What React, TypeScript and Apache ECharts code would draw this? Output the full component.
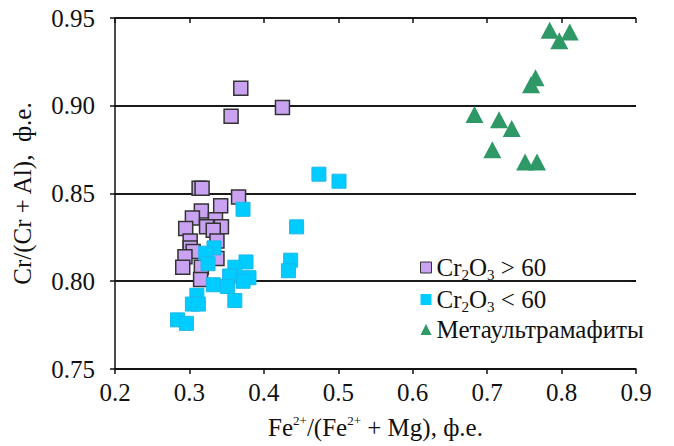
import React, { useEffect, useRef } from "react";
import * as echarts from "echarts";

const xTicks = [0.2, 0.3, 0.4, 0.5, 0.6, 0.7, 0.8, 0.9];
const yTicks = [0.75, 0.8, 0.85, 0.9, 0.95];

const seriesNames = ["Cr2O3 > 60", "Cr2O3 < 60", "Метаультрамафиты"];

const highCr: [number, number][] = [
  [0.369, 0.910], [0.425, 0.899], [0.356, 0.894], [0.313, 0.853], [0.317, 0.853],
  [0.366, 0.848], [0.342, 0.843], [0.316, 0.840], [0.304, 0.836], [0.335, 0.835],
  [0.343, 0.831], [0.323, 0.831], [0.295, 0.830], [0.332, 0.829], [0.301, 0.823],
  [0.337, 0.823], [0.301, 0.819], [0.305, 0.817], [0.294, 0.814], [0.337, 0.813],
  [0.291, 0.808], [0.316, 0.808], [0.315, 0.801],
];

const lowCr: [number, number][] = [
  [0.372, 0.841], [0.444, 0.831], [0.474, 0.861], [0.501, 0.857], [0.333, 0.819],
  [0.322, 0.816], [0.325, 0.810], [0.376, 0.811], [0.361, 0.808], [0.436, 0.812],
  [0.433, 0.806], [0.380, 0.802], [0.372, 0.800], [0.354, 0.803], [0.332, 0.798],
  [0.351, 0.797], [0.361, 0.789], [0.310, 0.792], [0.304, 0.787], [0.312, 0.787],
  [0.284, 0.778], [0.296, 0.776],
];

const metaUltramafic: [number, number][] = [
  [0.784, 0.943], [0.811, 0.942], [0.797, 0.937], [0.765, 0.916], [0.759, 0.912],
  [0.683, 0.895], [0.716, 0.892], [0.733, 0.887], [0.707, 0.875], [0.751, 0.868],
  [0.767, 0.868],
];

const FONT = "Liberation Serif";
const INK = "#111111";

export default function App() {
  const ref = useRef<HTMLDivElement>(null);
  useEffect(() => {
    if (!ref.current) return;
    const chart = echarts.init(ref.current, null, { renderer: "svg" });
    const xMin = xTicks[0], xMax = xTicks[xTicks.length - 1];
    const yMin = yTicks[0], yMax = yTicks[yTicks.length - 1];
    const option: any = {
      animation: false,
      grid: { left: 115, right: 38, top: 18, bottom: 76 },
      legend: {
        orient: "vertical",
        left: 415,
        top: 248,
        itemGap: 3,
        itemWidth: 11,
        itemHeight: 11,
        data: [
          { name: seriesNames[0], icon: "rect", itemStyle: { color: "#C9A3F2", borderColor: "#333", borderWidth: 1 } },
          { name: seriesNames[1], icon: "rect", itemStyle: { color: "#00CCFF", borderWidth: 0 } },
          { name: seriesNames[2], icon: "triangle", itemStyle: { color: "#2E9966", borderWidth: 0 } },
        ],
        formatter: (name: string) => {
          if (name === seriesNames[0]) return "{t|Cr}{s|2}{t|O}{s|3}{t| > 60}";
          if (name === seriesNames[1]) return "{t|Cr}{s|2}{t|O}{s|3}{t| < 60}";
          return "{t|" + name + "}";
        },
        textStyle: {
          fontFamily: FONT,
          fontSize: 25,
          color: INK,
          rich: {
            t: { fontFamily: FONT, fontSize: 25, color: INK, lineHeight: 25 },
            s: { fontFamily: FONT, fontSize: 15, color: INK, lineHeight: 25, padding: [14, 0, 0, 0] },
          },
        },
      },
      xAxis: [
        {
          type: "value",
          min: xMin,
          max: xMax,
          interval: 0.1,
          splitLine: { show: false },
          axisLine: { show: true, onZero: false, lineStyle: { color: INK, width: 1.5 } },
          axisTick: { show: true, inside: false, length: 5, lineStyle: { color: INK, width: 1.5 } },
          axisLabel: {
            fontFamily: FONT,
            fontSize: 25,
            color: INK,
            margin: 11,
            formatter: (v: number) => v.toFixed(1),
          },
          name: "{t|Fe}{u|2+}{t|/(Fe}{u|2+}{t| + Mg), ф.е.}",
          nameLocation: "middle",
          nameGap: 46,
          nameTextStyle: {
            fontFamily: FONT,
            fontSize: 25,
            color: INK,
            rich: {
              t: { fontFamily: FONT, fontSize: 25, color: INK, lineHeight: 25 },
              u: { fontFamily: FONT, fontSize: 13, color: INK, lineHeight: 25, padding: [0, 0, 14, 0] },
            },
          },
        },
        {
          type: "value",
          min: xMin,
          max: xMax,
          interval: 0.1,
          splitLine: { show: false },
          axisLine: { show: false, onZero: false },
          axisTick: { show: true, inside: true, length: 5, lineStyle: { color: INK, width: 1.5 } },
          axisLabel: { show: false },
        },
      ],
      yAxis: [
        {
          type: "value",
          min: yMin,
          max: yMax,
          interval: 0.05,
          axisLine: { show: true, onZero: false, lineStyle: { color: INK, width: 1.5 } },
          axisTick: { show: true, inside: false, length: 5, lineStyle: { color: INK, width: 1.5 } },
          splitLine: { show: true, lineStyle: { color: "#1a1a1a", width: 2 } },
          axisLabel: {
            fontFamily: FONT,
            fontSize: 25,
            color: INK,
            margin: 20,
            formatter: (v: number) => v.toFixed(2),
          },
          name: "Cr/(Cr + Al),  ф.е.",
          nameLocation: "middle",
          nameGap: 80,
          nameTextStyle: { fontFamily: FONT, fontSize: 25, color: INK },
        },
        {
          type: "value",
          min: yMin,
          max: yMax,
          interval: 0.05,
          axisLine: { show: false, onZero: false },
          axisTick: { show: true, inside: true, length: 5, lineStyle: { color: INK, width: 1.5 } },
          axisLabel: { show: false },
          splitLine: { show: false },
        },
      ],
      series: [
        {
          name: seriesNames[0],
          type: "scatter",
          symbol: "rect",
          symbolSize: 14,
          data: highCr,
          itemStyle: { color: "#C9A3F2", borderColor: "#333333", borderWidth: 1.5, opacity: 1 },
          z: 3,
        },
        {
          name: seriesNames[1],
          type: "scatter",
          symbol: "rect",
          symbolSize: 14,
          data: lowCr,
          itemStyle: { color: "#00CCFF", borderColor: "#19B8EC", borderWidth: 1, opacity: 1 },
          z: 4,
        },
        {
          name: seriesNames[2],
          type: "scatter",
          symbol: "triangle",
          symbolSize: [18, 17],
          data: metaUltramafic,
          itemStyle: { color: "#2E9966", borderWidth: 0, opacity: 1 },
          z: 5,
        },
      ],
    };
    chart.setOption(option);
    return () => chart.dispose();
  }, []);
  return (
    <div ref={ref} style={{ position: "fixed", left: 0, top: 0, width: 674, height: 446, background: "#fff" }} />
  );
}
